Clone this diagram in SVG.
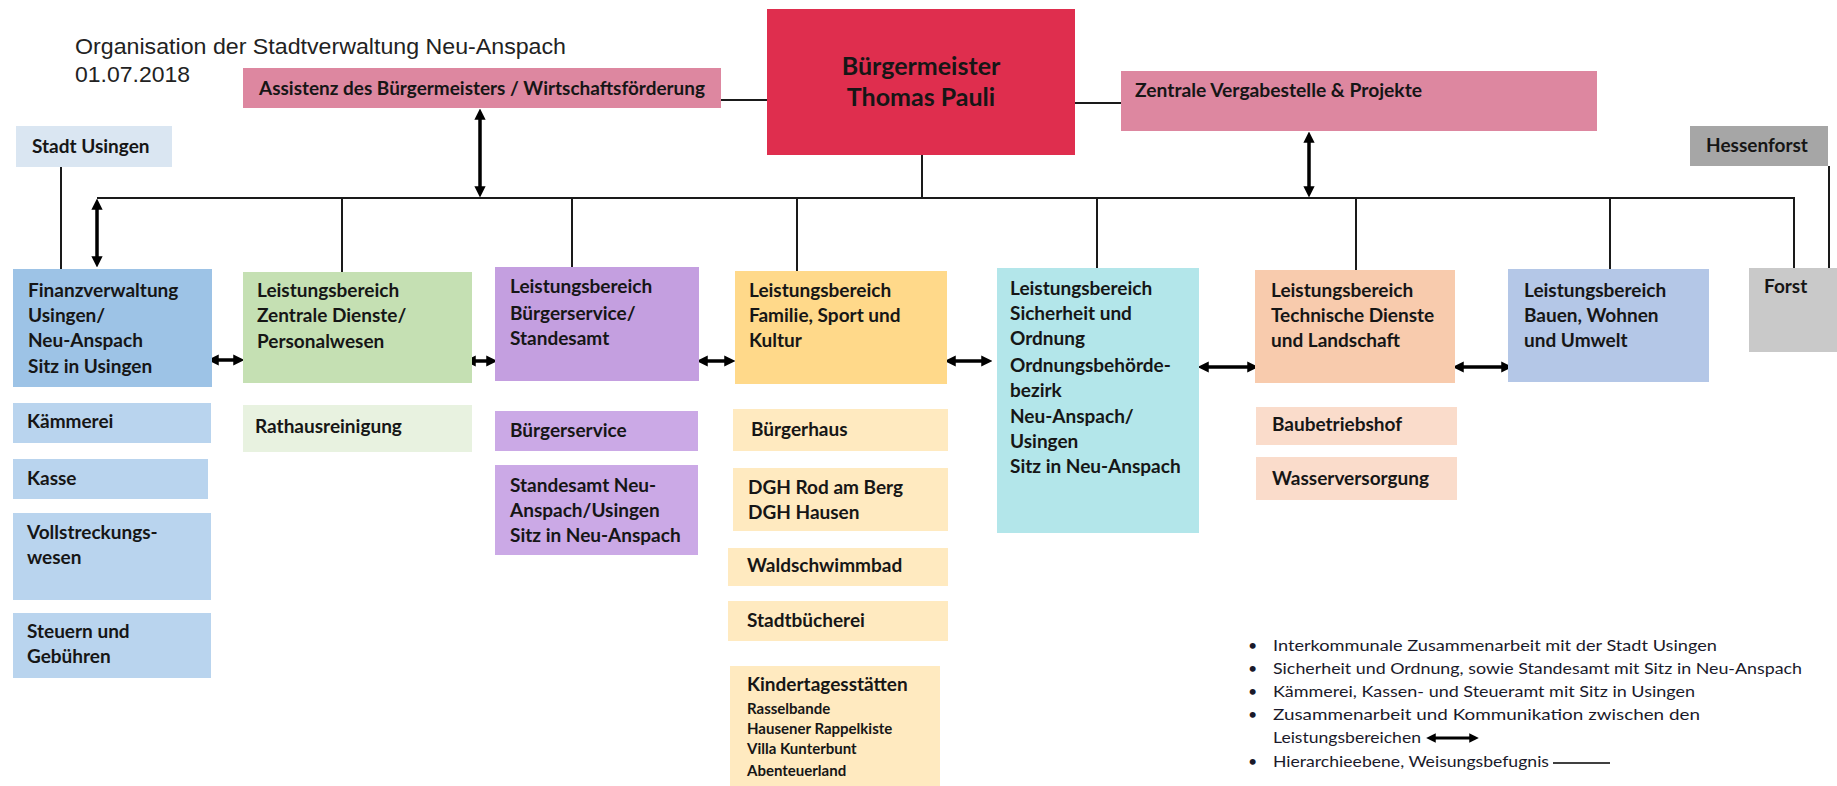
<svg xmlns="http://www.w3.org/2000/svg" width="1837" height="786" viewBox="0 0 1837 786">
<defs>
<style>
.t{font-family:Lato,"Open Sans","Liberation Sans",sans-serif;font-weight:700;font-size:19px;fill:#161616}
.s{font-size:15px}
.m{font-size:18px}
.b{font-size:25px}
.ti{font-family:"Liberation Sans",Arial,sans-serif;font-weight:400;font-size:22px;fill:#222}
.lg{font-family:Lato,"Open Sans","Liberation Sans",sans-serif;font-weight:400;font-size:16px;fill:#1a1a2a}
.ln{stroke:#1a1a1a;stroke-width:2;fill:none}
.da{stroke:#000;stroke-width:3.5;fill:none;marker-start:url(#ah);marker-end:url(#ah)}
.fin{fill:#9DC3E6}.finl{fill:#B9D4EE}
.grn{fill:#C5E0B3}.grnl{fill:#E8F2E0}
.pur{fill:#C49FE0}.purl{fill:#CBA9E6}
.yel{fill:#FFD98A}.yell{fill:#FFEAC0}
.cya{fill:#B3E6EA}
.ora{fill:#F8CBAD}.oral{fill:#FADCCB}
.bau{fill:#B4C7E7}
.pink{fill:#DD87A0}
</style>
<marker id="ah" viewBox="0 0 10 10" refX="6" refY="5" markerWidth="3.2" markerHeight="3.2" orient="auto-start-reverse">
<path d="M0,0 L10,5 L0,10 z" fill="#000"/>
</marker>
</defs>
<rect width="1837" height="786" fill="#fff"/>

<g id="title">
<text class="ti" x="75" y="54" textLength="491" lengthAdjust="spacingAndGlyphs">Organisation der Stadtverwaltung Neu-Anspach</text>
<text class="ti" x="75" y="82" textLength="115" lengthAdjust="spacingAndGlyphs">01.07.2018</text>
</g>

<g id="connectors">
<path class="ln" d="M97,198 H1794 V268"/>
<path class="ln" d="M721,100 H767"/>
<path class="ln" d="M1075,103 H1121"/>
<path class="ln" d="M922,155 V198"/>
<path class="ln" d="M61,167 V269"/>
<path class="ln" d="M1829,166 V268"/>
<path class="ln" d="M342,198 V272"/>
<path class="ln" d="M572,198 V267"/>
<path class="ln" d="M797,198 V271"/>
<path class="ln" d="M1097,198 V268"/>
<path class="ln" d="M1356,198 V270"/>
<path class="ln" d="M1610,198 V269"/>
<path class="da" d="M480,113 V193"/>
<path class="da" d="M1309,136 V193"/>
<path class="da" d="M97,203 V263"/>
<path class="da" d="M212,360 H240"/>
<path class="da" d="M469,361 H493"/>
<path class="da" d="M701,361 H731"/>
<path class="da" d="M949,361 H988"/>
<path class="da" d="M1202,367 H1254"/>
<path class="da" d="M1457,367 H1508"/>
</g>

<g id="buergermeister">
<rect x="767" y="9" width="308" height="146" fill="#DF2E4E"/>
<text class="t b" x="921" y="75" text-anchor="middle">Bürgermeister</text>
<text class="t b" x="921" y="106" text-anchor="middle">Thomas Pauli</text>
</g>

<g id="assistenz">
<rect class="pink" x="243" y="68" width="478" height="40"/>
<text class="t m" x="259" y="95" textLength="446" lengthAdjust="spacingAndGlyphs">Assistenz des Bürgermeisters / Wirtschaftsförderung</text>
</g>

<g id="vergabestelle">
<rect class="pink" x="1121" y="71" width="476" height="60"/>
<text class="t m" x="1135" y="97" textLength="287" lengthAdjust="spacingAndGlyphs">Zentrale Vergabestelle &amp; Projekte</text>
</g>

<g id="stadt-usingen">
<rect x="16" y="126" width="156" height="41" fill="#DAE6F2"/>
<text class="t" x="32" y="153">Stadt Usingen</text>
</g>

<g id="hessenforst">
<rect x="1690" y="126" width="138" height="40" fill="#A6A6A6"/>
<text class="t" x="1757" y="152" text-anchor="middle">Hessenforst</text>
</g>

<g id="finanzverwaltung">
<rect class="fin" x="13" y="269" width="199" height="118"/>
<text class="t" x="28" y="297">Finanzverwaltung</text>
<text class="t" x="28" y="322">Usingen/</text>
<text class="t" x="28" y="347">Neu-Anspach</text>
<text class="t" x="28" y="373">Sitz in Usingen</text>
</g>
<g id="kaemmerei">
<rect class="finl" x="13" y="403" width="198" height="40"/>
<text class="t" x="27" y="428">Kämmerei</text>
</g>
<g id="kasse">
<rect class="finl" x="13" y="459" width="195" height="40"/>
<text class="t" x="27" y="485">Kasse</text>
</g>
<g id="vollstreckung">
<rect class="finl" x="13" y="513" width="198" height="87"/>
<text class="t" x="27" y="539">Vollstreckungs-</text>
<text class="t" x="27" y="564">wesen</text>
</g>
<g id="steuern">
<rect class="finl" x="13" y="613" width="198" height="65"/>
<text class="t" x="27" y="638">Steuern und</text>
<text class="t" x="27" y="663">Gebühren</text>
</g>

<g id="zentrale-dienste">
<rect class="grn" x="243" y="272" width="229" height="111"/>
<text class="t" x="257" y="297">Leistungsbereich</text>
<text class="t" x="257" y="322">Zentrale Dienste/</text>
<text class="t" x="257" y="348">Personalwesen</text>
</g>
<g id="rathausreinigung">
<rect class="grnl" x="243" y="405" width="229" height="47"/>
<text class="t" x="255" y="433">Rathausreinigung</text>
</g>

<g id="buergerservice-standesamt">
<rect class="pur" x="495" y="267" width="204" height="114"/>
<text class="t" x="510" y="293">Leistungsbereich</text>
<text class="t" x="510" y="320">Bürgerservice/</text>
<text class="t" x="510" y="345">Standesamt</text>
</g>
<g id="buergerservice">
<rect class="purl" x="495" y="411" width="203" height="40"/>
<text class="t" x="510" y="437">Bürgerservice</text>
</g>
<g id="standesamt">
<rect class="purl" x="495" y="465" width="203" height="90"/>
<text class="t" x="510" y="492">Standesamt Neu-</text>
<text class="t" x="510" y="517">Anspach/Usingen</text>
<text class="t" x="510" y="542">Sitz in Neu-Anspach</text>
</g>

<g id="familie-sport-kultur">
<rect class="yel" x="735" y="271" width="212" height="113"/>
<text class="t" x="749" y="297">Leistungsbereich</text>
<text class="t" x="749" y="322">Familie, Sport und</text>
<text class="t" x="749" y="347">Kultur</text>
</g>
<g id="buergerhaus">
<rect class="yell" x="733" y="409" width="215" height="42"/>
<text class="t" x="751" y="436">Bürgerhaus</text>
</g>
<g id="dgh">
<rect class="yell" x="733" y="468" width="215" height="63"/>
<text class="t" x="748" y="494">DGH Rod am Berg</text>
<text class="t" x="748" y="519">DGH Hausen</text>
</g>
<g id="waldschwimmbad">
<rect class="yell" x="728" y="548" width="220" height="38"/>
<text class="t" x="747" y="572">Waldschwimmbad</text>
</g>
<g id="stadtbuecherei">
<rect class="yell" x="728" y="601" width="220" height="40"/>
<text class="t" x="747" y="627">Stadtbücherei</text>
</g>
<g id="kitas">
<rect class="yell" x="730" y="666" width="210" height="120"/>
<text class="t" x="747" y="691">Kindertagesstätten</text>
<text class="t s" x="747" y="714">Rasselbande</text>
<text class="t s" x="747" y="734">Hausener Rappelkiste</text>
<text class="t s" x="747" y="754">Villa Kunterbunt</text>
<text class="t s" x="747" y="776">Abenteuerland</text>
</g>

<g id="sicherheit-ordnung">
<rect class="cya" x="997" y="268" width="202" height="265"/>
<text class="t" x="1010" y="295">Leistungsbereich</text>
<text class="t" x="1010" y="320">Sicherheit und</text>
<text class="t" x="1010" y="345">Ordnung</text>
<text class="t" x="1010" y="372">Ordnungsbehörde-</text>
<text class="t" x="1010" y="397">bezirk</text>
<text class="t" x="1010" y="423">Neu-Anspach/</text>
<text class="t" x="1010" y="448">Usingen</text>
<text class="t" x="1010" y="473">Sitz in Neu-Anspach</text>
</g>

<g id="technische-dienste">
<rect class="ora" x="1255" y="270" width="200" height="113"/>
<text class="t" x="1271" y="297">Leistungsbereich</text>
<text class="t" x="1271" y="322">Technische Dienste</text>
<text class="t" x="1271" y="347">und Landschaft</text>
</g>
<g id="baubetriebshof">
<rect class="oral" x="1256" y="407" width="201" height="38"/>
<text class="t" x="1272" y="431">Baubetriebshof</text>
</g>
<g id="wasserversorgung">
<rect class="oral" x="1256" y="457" width="201" height="43"/>
<text class="t" x="1272" y="485">Wasserversorgung</text>
</g>

<g id="bauen-wohnen-umwelt">
<rect class="bau" x="1508" y="269" width="201" height="113"/>
<text class="t" x="1524" y="297">Leistungsbereich</text>
<text class="t" x="1524" y="322">Bauen, Wohnen</text>
<text class="t" x="1524" y="347">und Umwelt</text>
</g>

<g id="forst">
<rect x="1749" y="268" width="88" height="84" fill="#C9C9C9"/>
<text class="t" x="1764" y="293">Forst</text>
</g>

<g id="legende">
<text class="lg" x="1248" y="651">•</text>
<text class="lg" x="1273" y="651" textLength="444" lengthAdjust="spacingAndGlyphs">Interkommunale Zusammenarbeit mit der Stadt Usingen</text>
<text class="lg" x="1248" y="674">•</text>
<text class="lg" x="1273" y="674" textLength="529" lengthAdjust="spacingAndGlyphs">Sicherheit und Ordnung, sowie Standesamt mit Sitz in Neu-Anspach</text>
<text class="lg" x="1248" y="697">•</text>
<text class="lg" x="1273" y="697" textLength="422" lengthAdjust="spacingAndGlyphs">Kämmerei, Kassen- und Steueramt mit Sitz in Usingen</text>
<text class="lg" x="1248" y="720">•</text>
<text class="lg" x="1273" y="720" textLength="427" lengthAdjust="spacingAndGlyphs">Zusammenarbeit und Kommunikation zwischen den</text>
<text class="lg" x="1273" y="743" textLength="148" lengthAdjust="spacingAndGlyphs">Leistungsbereichen</text>
<text class="lg" x="1248" y="767">•</text>
<text class="lg" x="1273" y="767" textLength="276" lengthAdjust="spacingAndGlyphs">Hierarchieebene, Weisungsbefugnis</text>
<path d="M1430,738 H1475" stroke="#000" stroke-width="3" marker-start="url(#ah)" marker-end="url(#ah)"/>
<path d="M1553,763 H1610" stroke="#000" stroke-width="1.5"/>
</g>
</svg>
